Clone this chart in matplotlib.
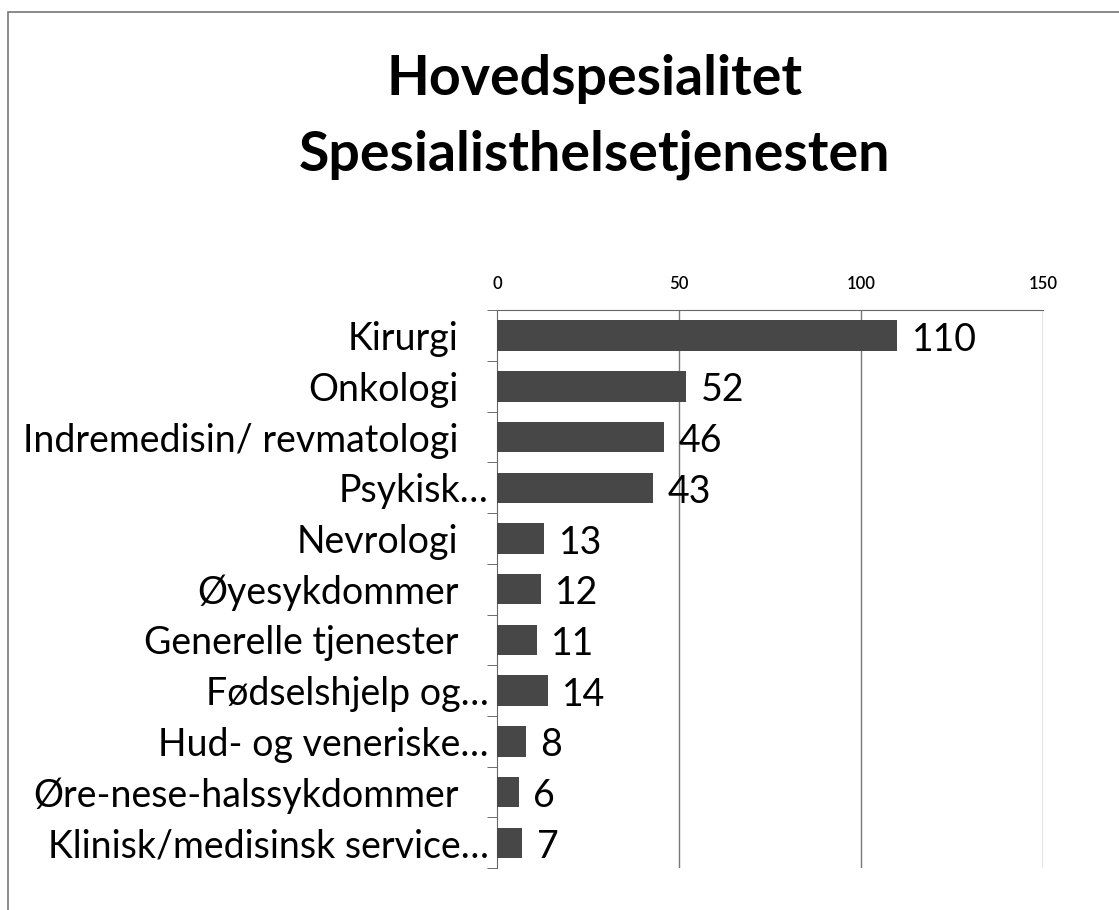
import numpy as np
import matplotlib
matplotlib.use('Agg')
import matplotlib.pyplot as plt
from matplotlib.patches import Rectangle

plt.rcParams['font.family'] = ['Lato', 'DejaVu Sans']

kategorier = ['Kirurgi', 'Onkologi', 'Indremedisin/ revmatologi', 'Psykisk…',
              'Nevrologi', 'Øyesykdommer', 'Generelle tjenester', 'Fødselshjelp og…',
              'Hud- og veneriske…', 'Øre-nese-halssykdommer', 'Klinisk/medisinsk service…']
verdier = [110, 52, 46, 43, 13, 12, 11, 14, 8, 6, 7]
x_ticks = [0, 50, 100, 150]

fig = plt.figure(figsize=(11.19, 9.10), dpi=100)
ax = fig.add_axes([0.444, 0.046, 0.488, 0.613])

y = np.arange(len(kategorier))
ax.barh(y, verdier, height=0.6, color='#474747', zorder=3)
ax.set_ylim(len(kategorier) - 0.5, -0.5)
ax.set_xlim(0, 150)
ax.set_xticks(x_ticks)
ax.xaxis.tick_top()
ax.tick_params(axis='x', length=0, labelsize=12, pad=13)
for t in ax.get_xticklabels():
    t.set_fontweight('semibold')
ax.set_yticks(y)
ax.set_yticklabels(kategorier, fontsize=27)
ax.set_yticks(np.arange(len(kategorier) + 1) - 0.5, minor=True)
ax.tick_params(axis='y', which='major', length=0, pad=6)
ax.tick_params(axis='y', which='minor', length=7, direction='out', color='#555555')
for t, lab in zip(ax.get_yticklabels(), kategorier):
    if not lab.endswith('…'):
        t.set_x(-0.055)

for xv in x_ticks[1:]:
    ax.axvline(xv, color='#777777', lw=1, zorder=1)

for s in ['right', 'bottom']:
    ax.spines[s].set_visible(False)
ax.spines['top'].set_color('#666666')
ax.spines['left'].set_color('#666666')

for yi, v in zip(y, verdier):
    ax.text(v + 4, yi + 0.08, str(v), va='center', ha='left', fontsize=27)

fig.text(0.531, 0.913, 'Hovedspesialitet', ha='center', va='center',
         fontsize=40, fontweight='bold')
fig.text(0.531, 0.830, 'Spesialisthelsetjenesten', ha='center', va='center',
         fontsize=40, fontweight='bold')

fig.patches.append(Rectangle((0.007, -0.1), 1.1, 1.087, transform=fig.transFigure,
                             fill=False, ec='#777777', lw=1.2))

fig.savefig('out.png', dpi=100)
